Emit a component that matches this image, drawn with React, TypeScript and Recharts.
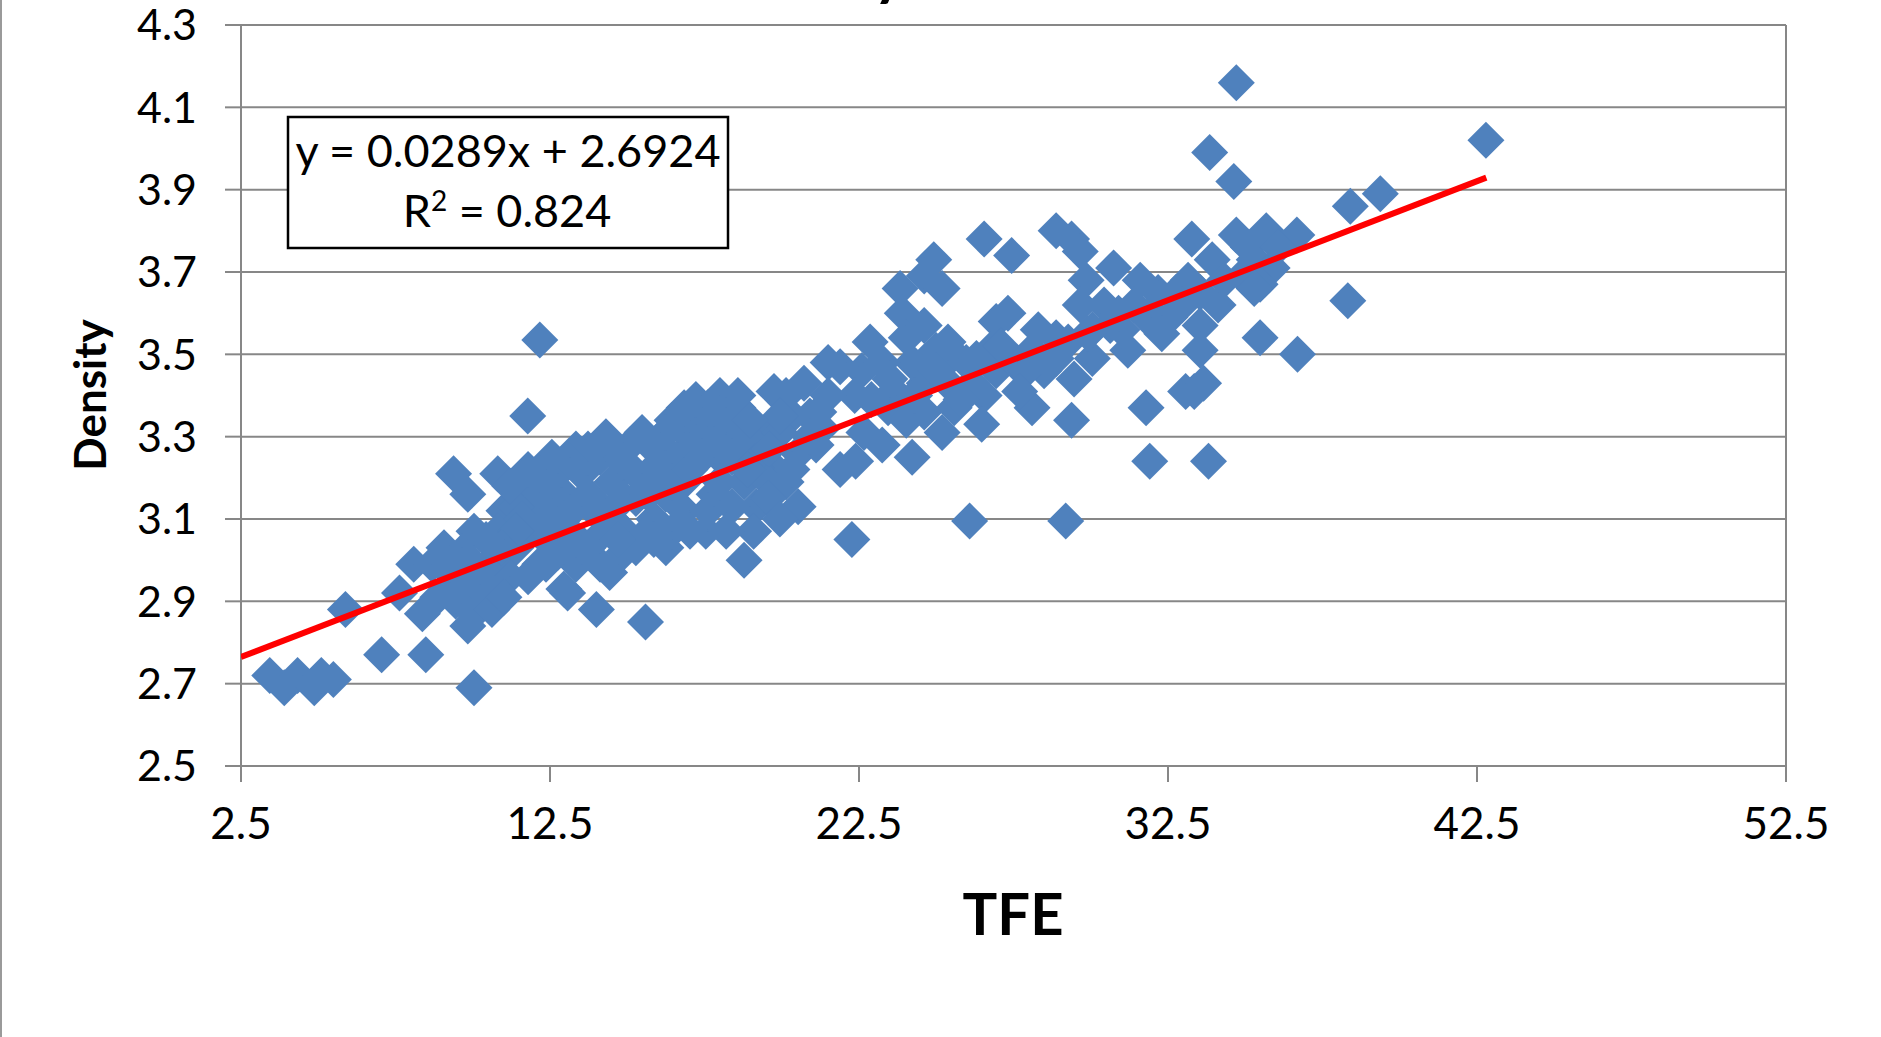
import React from "react";
import {
  ScatterChart,
  Scatter,
  XAxis,
  YAxis,
  CartesianGrid,
  ReferenceLine,
  Customized,
} from "recharts";

// TFE (x) and density (y) of each sample
const tfe = [
  34.71, 42.79, 33.85, 34.63, 39.37, 38.4, 38.32, 36.69, 35.48, 33.81,
  31.91, 31.79, 29.19, 26.08, 22.27, 12.17, 11.78, 9.38, 9.84, 10.04,
  8.48, 7.05, 5.88, 3.43, 3.9, 4.33, 4.87, 5.1, 5.49, 15.59,
  14.0, 13.07, 14.43, 18.78, 17.54, 16.25, 7.63, 8.37, 8.09, 9.84,
  10.23,
  26.55, 27.44, 28.88, 29.38, 29.66, 24.92, 24.61, 25.19, 23.83, 23.9,
  30.74, 29.85, 33.27, 33.93, 34.71, 35.68, 36.67, 35.29, 35.87, 35.48,
  34.12, 33.54, 33.54, 33.35, 33.07, 33.65, 33.15, 32.76, 32.18, 31.6,
  31.79, 31.2, 30.63, 30.05, 29.66, 29.46, 29.38, 28.1, 28.49, 28.88,
  28.1, 27.32, 26.94, 26.74, 26.55, 25.97, 25.58, 26.47, 25.19, 24.99,
  24.61, 24.22, 24.22, 23.25, 23.44, 22.86, 22.59, 22.36, 21.89, 21.5,
  21.89, 22.39,
  20.72, 20.33, 20.53, 20.53, 19.94, 19.75, 19.56, 19.17, 19.09, 18.58,
  18.47, 18.0, 17.81, 17.22, 17.03, 16.84, 16.45, 16.25, 15.98, 15.67,
  15.86, 15.28, 14.89, 14.5, 14.12, 13.92, 13.53, 13.34, 13.14, 12.95,
  12.56, 12.37, 12.17, 11.79, 11.71, 11.4, 11.2, 11.01, 10.81, 10.62,
  10.43, 10.04, 9.65, 9.38, 9.07, 8.87, 8.68, 9.45, 10.04, 12.95,
  13.34, 13.73, 14.12, 14.89, 15.28, 15.67, 16.45, 16.84, 17.61, 18.39,
  18.78, 19.36, 18.0, 16.64, 17.22, 18.0, 18.58, 20.14, 21.5, 21.3,
  21.11, 16.45, 15.09, 14.7, 13.73, 12.87, 12.37, 11.98, 11.4, 15.86,
  18.2, 17.61, 19.17, 19.94,
  10.81, 11.2, 11.59, 12.17, 12.56, 12.95, 13.34, 13.73, 14.12, 14.5,
  14.89, 15.28, 15.67, 16.06, 16.45, 17.03, 17.42, 17.81, 18.39, 18.78,
  19.17, 19.56, 20.14, 20.33, 20.91, 19.94, 18.97, 17.61, 16.84, 16.25,
  15.48, 14.89, 14.31, 13.65, 13.14, 12.56, 12.17, 11.79, 11.4, 10.93,
  10.43, 10.04, 9.65, 9.26, 10.62, 11.01, 11.79, 12.37, 12.76, 13.34,
  14.12, 14.7, 15.86, 17.03, 18.2, 19.56, 19.94,
  22.66, 23.63, 24.03, 24.61, 25.38, 25.58, 26.16, 26.94, 27.52, 27.91,
  28.3, 28.88, 29.27, 30.05, 30.43, 31.01, 31.4, 31.98, 32.56, 32.95,
  33.54, 34.32, 34.9, 35.29, 35.1, 36.07, 23.25, 24.03, 24.61, 25.38,
  22.9, 23.5, 24.3, 25.0, 25.8, 26.3, 27.1, 27.7, 28.6, 29.9,
  30.9, 32.3, 21.2, 20.9, 19.6, 18.9,
];

const density = [
  4.16, 4.02, 3.99, 3.92, 3.89, 3.86, 3.63, 3.5, 3.54, 3.24,
  3.24, 3.37, 3.095, 3.095, 3.05, 3.535, 3.35, 3.21, 3.16, 2.69,
  2.77, 2.77, 2.88, 2.72, 2.69, 2.72, 2.69, 2.72, 2.71, 2.85,
  2.88, 2.92, 2.97, 3.0, 3.07, 3.03, 2.92, 2.87, 2.99, 2.84,
  2.9,
  3.78, 3.74, 3.8, 3.78, 3.75, 3.73, 3.69, 3.66, 3.66, 3.6,
  3.71, 3.68, 3.78, 3.73, 3.79, 3.8, 3.79, 3.73, 3.71, 3.67,
  3.62, 3.57, 3.51, 3.41, 3.41, 3.43, 3.68, 3.65, 3.65, 3.68,
  3.59, 3.51, 3.57, 3.49, 3.62, 3.44, 3.34, 3.37, 3.46, 3.54,
  3.51, 3.6, 3.58, 3.51, 3.4, 3.48, 3.37, 3.33, 3.31, 3.51,
  3.43, 3.48, 3.25, 3.28, 3.37, 3.53, 3.46, 3.4, 3.47, 3.48,
  3.22, 3.24,
  3.43, 3.35, 3.26, 3.13, 3.21, 3.41, 3.31, 3.13, 3.07, 3.37,
  3.31, 3.25, 3.16, 3.34, 3.28, 3.19, 3.25, 3.16, 3.29, 3.21,
  3.1, 3.15, 3.07, 3.19, 3.25, 3.12, 3.21, 3.27, 3.07, 3.16,
  3.12, 3.05, 2.99, 3.07, 3.18, 3.03, 2.96, 3.12, 3.07, 3.0,
  2.94, 3.07, 3.02, 2.96, 3.03, 2.91, 2.99, 2.9, 2.87, 2.93,
  2.99, 3.03, 2.99, 3.02, 3.03, 3.07, 3.07, 3.12, 3.12, 3.13,
  3.19, 3.21, 3.19, 3.33, 3.39, 3.4, 3.4, 3.4, 3.4, 3.32,
  3.28, 3.34, 3.28, 3.25, 3.27, 3.22, 3.19, 3.15, 3.13, 3.27,
  3.35, 3.31, 3.28, 3.31,
  3.21, 3.18, 3.1, 3.08, 3.06, 3.1, 3.13, 3.16, 3.13, 3.1,
  3.15, 3.21, 3.16, 3.21, 3.19, 3.22, 3.25, 3.28, 3.25, 3.28,
  3.24, 3.19, 3.19, 3.22, 3.35, 3.35, 3.34, 3.37, 3.37, 3.31,
  3.31, 3.24, 3.3, 3.25, 3.24, 3.25, 3.21, 3.22, 3.07, 3.03,
  3.05, 2.99, 2.94, 2.99, 2.88, 2.91, 2.96, 2.99, 3.02, 3.05,
  3.06, 3.05, 3.05, 3.07, 3.07, 3.15, 3.1,
  3.31, 3.41, 3.34, 3.36, 3.43, 3.5, 3.43, 3.46, 3.48, 3.46,
  3.56, 3.49, 3.53, 3.56, 3.62, 3.56, 3.62, 3.6, 3.59, 3.62,
  3.65, 3.68, 3.69, 3.66, 3.76, 3.76, 3.48, 3.54, 3.57, 3.53,
  3.39, 3.44, 3.4, 3.46, 3.39, 3.49, 3.52, 3.41, 3.48, 3.55,
  3.6, 3.55, 3.36, 3.3, 3.27, 3.22,
];

const xTicks = [2.5, 12.5, 22.5, 32.5, 42.5, 52.5];
const yTicks = [2.5, 2.7, 2.9, 3.1, 3.3, 3.5, 3.7, 3.9, 4.1, 4.3];

// Linear trendline fitted to the samples
const slope = 0.0289;
const intercept = 2.6924;
const rSquared = 0.824;
const trendFrom = 2.5;
const trendTo = 42.8;

const points = tfe.map((x, i) => ({ tfe: x, density: density[i] }));
const trendY = (x: number) => intercept + slope * x;
const trendPoints = [
  { tfe: trendFrom, density: trendY(trendFrom) },
  { tfe: trendTo, density: trendY(trendTo) },
];

const FONT = "Lato, 'Liberation Sans', sans-serif";
const GRID = "#878787";
const MARKER = "#4f81bd";

const Diamond = (props: any) => {
  const { cx, cy } = props;
  if (cx == null || cy == null) return null;
  const r = 18.5;
  return (
    <polygon
      points={`${cx},${cy - r} ${cx + r},${cy} ${cx},${cy + r} ${cx - r},${cy}`}
      fill={MARKER}
    />
  );
};

const NoMarker = () => <g />;

const Decorations = () => (
  <g>
    {/* outer frame edge */}
    <line x1={1} y1={0} x2={1} y2={1037} stroke="#9a9a9a" strokeWidth={2} />
    {/* chart title, above the visible area */}
    <text
      x={905}
      y={-6}
      textAnchor="end"
      fontFamily={FONT}
      fontWeight={700}
      fontSize={60}
      fill="#000"
    >
      Density
    </text>
    {/* trendline equation box */}
    <rect x={288} y={117} width={440} height={131} fill="#fff" stroke="#000" strokeWidth={2.5} />
    <text x={508} y={167} textAnchor="middle" fontFamily={FONT} fontSize={45} fill="#000">
      {`y = ${slope}x + ${intercept}`}
    </text>
    <text x={507} y={227} textAnchor="middle" fontFamily={FONT} fontSize={45} fill="#000">
      R<tspan dy={-16} fontSize={28}>2</tspan>
      <tspan dy={16}>{` = ${rSquared}`}</tspan>
    </text>
    {/* axis titles */}
    <text x={1013} y={935} textAnchor="middle" fontFamily={FONT} fontWeight={700} fontSize={58} fill="#000">
      TFE
    </text>
    <text
      x={106}
      y={395}
      textAnchor="middle"
      transform="rotate(-90, 106, 395)"
      fontFamily={FONT}
      fontWeight={700}
      fontSize={44}
      fill="#000"
    >
      Density
    </text>
  </g>
);

export default function App() {
  return (
    <div style={{ position: "absolute", left: 0, top: 0, width: 1881, height: 1037, background: "#fff" }}>
      <ScatterChart
        width={1881}
        height={1037}
        margin={{ top: 25, right: 95, bottom: 0, left: 0 }}
        style={{ overflow: "hidden" }}
      >
        <CartesianGrid vertical={false} stroke={GRID} strokeWidth={2} />
        <XAxis
          type="number"
          dataKey="tfe"
          domain={[2.5, 52.5]}
          ticks={xTicks}
          allowDataOverflow
          height={271}
          tickSize={16}
          tickMargin={26}
          axisLine={{ stroke: GRID, strokeWidth: 2 }}
          tickLine={{ stroke: GRID, strokeWidth: 2 }}
          tick={{ fill: "#000", fontSize: 44, fontFamily: FONT }}
          tickFormatter={(v: number) => v.toFixed(1)}
        />
        <YAxis
          type="number"
          dataKey="density"
          domain={[2.5, 4.3]}
          ticks={yTicks}
          allowDataOverflow
          width={241}
          tickSize={16}
          tickMargin={28}
          axisLine={{ stroke: GRID, strokeWidth: 2 }}
          tickLine={{ stroke: GRID, strokeWidth: 2 }}
          tick={{ fill: "#000", fontSize: 43, fontFamily: FONT }}
          tickFormatter={(v: number) => v.toFixed(1)}
        />
        <ReferenceLine x={52.5} stroke={GRID} strokeWidth={2} />
        <Scatter data={points} shape={Diamond} isAnimationActive={false} />
        <Scatter
          data={trendPoints}
          shape={NoMarker}
          line={{ stroke: "#ff0000", strokeWidth: 6 }}
          isAnimationActive={false}
        />
        <Customized component={Decorations} />
      </ScatterChart>
    </div>
  );
}
